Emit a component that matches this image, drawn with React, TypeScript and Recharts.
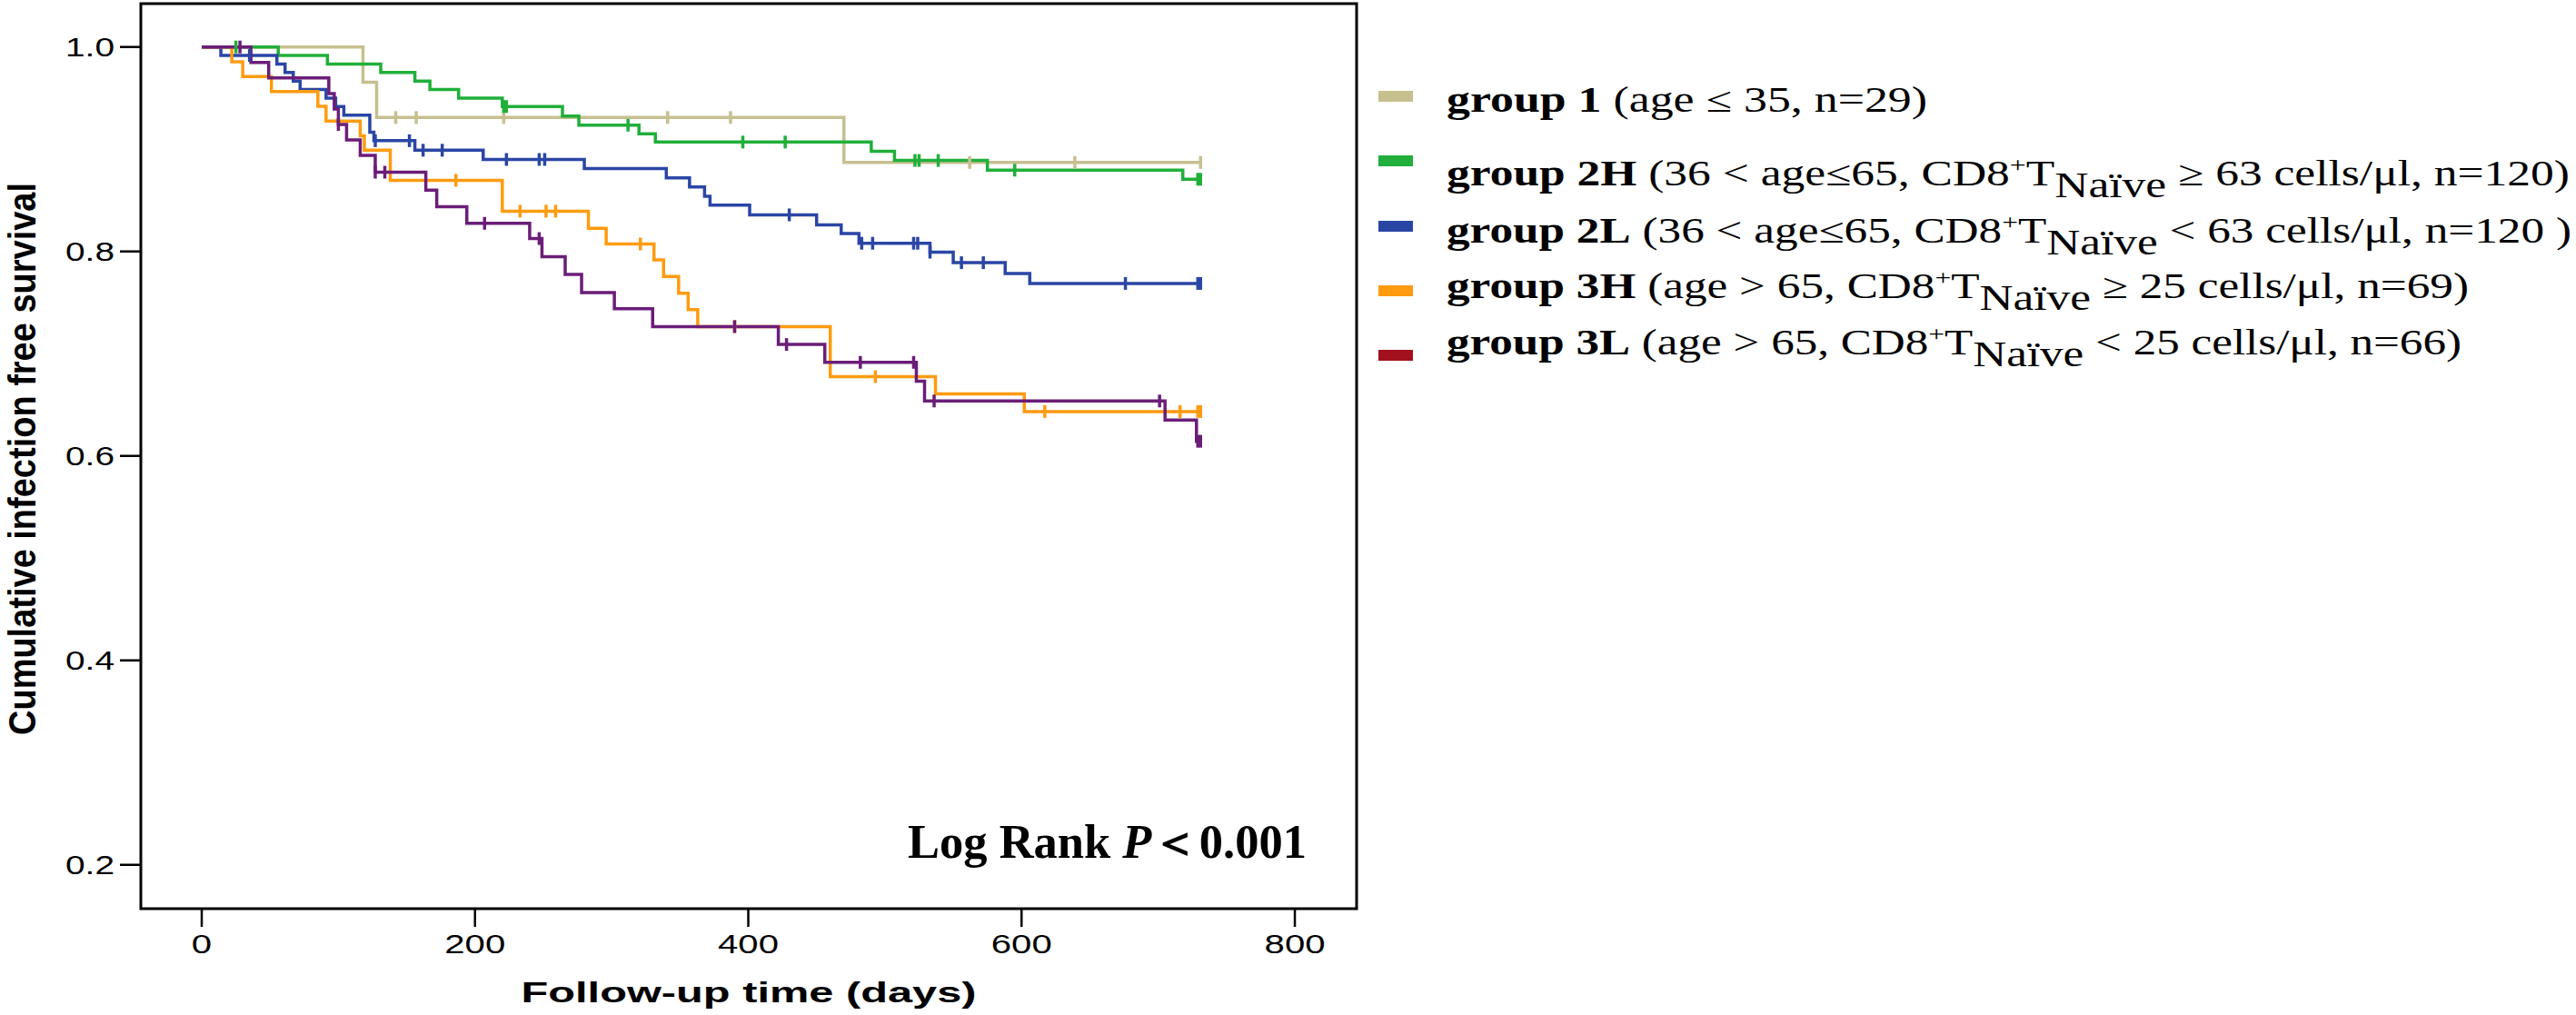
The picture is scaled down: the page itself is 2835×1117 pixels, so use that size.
import React from 'react'
import { ComposedChart, Line, Scatter, XAxis, YAxis, ReferenceArea } from 'recharts'

// Kaplan-Meier steps: [day, survival after the event]
const group1Steps: [number, number][] = [[0, 1], [118, 0.9655], [128, 0.931], [470, 0.887], [731, 0.887]]
const group2HSteps: [number, number][] = [
  [0, 1], [56, 0.9917], [92, 0.9833], [131, 0.975], [156, 0.9667], [167, 0.9583], [188, 0.95],
  [220, 0.9417], [264, 0.9325], [276, 0.9235], [320, 0.915], [332, 0.907], [490, 0.898],
  [507, 0.889], [575, 0.8795], [718, 0.8706], [731, 0.8706],
]
const group2LSteps: [number, number][] = [
  [0, 1], [14, 0.9917], [55, 0.9833], [61, 0.975], [67, 0.9667], [72, 0.9583], [91, 0.95],
  [98, 0.9417], [104, 0.9333], [123, 0.9167], [126, 0.9083], [156, 0.899], [206, 0.89],
  [280, 0.881], [340, 0.872], [357, 0.863], [368, 0.854], [372, 0.8453], [401, 0.8358],
  [450, 0.826], [468, 0.8175], [481, 0.808], [533, 0.7993], [550, 0.789], [588, 0.7784],
  [606, 0.7687], [731, 0.7687],
]
const group3HSteps: [number, number][] = [
  [0, 1], [22, 0.9855], [30, 0.971], [51, 0.9565], [85, 0.942], [91, 0.9275], [116, 0.913],
  [119, 0.899], [138, 0.8696], [220, 0.8394], [283, 0.8227], [296, 0.8073], [331, 0.7918],
  [338, 0.7755], [349, 0.759], [356, 0.743], [363, 0.7265], [460, 0.6775], [537, 0.6606],
  [602, 0.6434], [731, 0.6434],
]
const group3LSteps: [number, number][] = [
  [0, 1], [36, 0.9848], [49, 0.9697], [93, 0.9545], [97, 0.9394], [100, 0.9242], [106, 0.9091],
  [116, 0.8939], [127, 0.8775], [164, 0.86], [172, 0.8438], [194, 0.8275], [240, 0.8126],
  [249, 0.7948], [266, 0.7776], [278, 0.7598], [302, 0.744], [330, 0.7265], [422, 0.709],
  [456, 0.6915], [523, 0.673], [529, 0.6537], [705, 0.635], [728, 0.6143], [731, 0.6143],
]

// censored observations (days)
const group1Censored = [142, 157, 221, 341, 387, 562, 639, 731]
const group2HCensored = [25, 221, 223, 312, 396, 427, 522, 525, 539, 595, 729, 731]
const group2LCensored = [35, 127, 152, 162, 176, 223, 247, 251, 430, 483, 491, 521, 524, 533, 556, 572, 676, 729, 731]
const group3HCensored = [186, 233, 252, 259, 321, 390, 493, 617, 716, 729, 731]
const group3LCensored = [28, 100, 127, 134, 207, 247, 390, 428, 482, 521, 536, 701, 729, 731]

const xTicks = [0, 200, 400, 600, 800]
const yTicks = [0.2, 0.4, 0.6, 0.8, 1.0]

const X_DOMAIN: [number, number] = [-44.56, 845.2]
const Y_DOMAIN: [number, number] = [0.1571, 1.0424]

const toPoints = (steps: [number, number][]) => steps.map(([t, s]) => ({ t, s }))
const censorPoints = (steps: [number, number][], times: number[]) =>
  times.map((t) => {
    let s = steps[0][1]
    for (const [st, sv] of steps) if (st <= t) s = sv
    return { t, s }
  })

const groups = [
  { key: 'g1', steps: group1Steps, censored: group1Censored, color: '#C6C08F' },
  { key: 'g2H', steps: group2HSteps, censored: group2HCensored, color: '#20AF3A' },
  { key: 'g2L', steps: group2LSteps, censored: group2LCensored, color: '#2A46A5' },
  { key: 'g3H', steps: group3HSteps, censored: group3HCensored, color: '#FF9B10' },
  { key: 'g3L', steps: group3LSteps, censored: group3LCensored, color: '#6B1D78' },
]

const legendColors = ['#C6C08F', '#20AF3A', '#2A46A5', '#FF9B10', '#A3101E']

const sans = '"Liberation Sans", Arial, sans-serif'
const serif = '"Liberation Serif", "Times New Roman", serif'

const YTick = (props: any) => {
  const { x, y, payload } = props
  return (
    <text x={x} y={y} dy={10.5} textAnchor="end" fontFamily={sans} fontSize={29} fill="#000"
      textLength={54} lengthAdjust="spacingAndGlyphs">
      {Number(payload.value).toFixed(1)}
    </text>
  )
}

const XTick = (props: any) => {
  const { x, y, payload } = props
  const label = String(payload.value)
  return (
    <text x={x} y={y} dy={20.5} textAnchor="middle" fontFamily={sans} fontSize={29} fill="#000"
      textLength={label.length * 22.3} lengthAdjust="spacingAndGlyphs">
      {label}
    </text>
  )
}

const YTitle = () => (
  <text x={39} y={505} transform="rotate(-90 39 505)" textAnchor="middle" fontFamily={sans}
    fontWeight="bold" fontSize={42} fill="#000" textLength={608} lengthAdjust="spacingAndGlyphs">
    Cumulative infection free survival
  </text>
)

const XTitle = () => (
  <text x={824} y={1103} textAnchor="middle" fontFamily={sans} fontWeight="bold" fontSize={32}
    fill="#000" textLength={501} lengthAdjust="spacingAndGlyphs">
    Follow-up time (days)
  </text>
)

const censorShape = (color: string) => (p: any) => (
  <line x1={p.cx} x2={p.cx} y1={p.cy - 7} y2={p.cy + 7} stroke={color} strokeWidth={3.5} />
)

// legend rows: bold name, text before subscript, subscript, text after
const legendRows = [
  { name: 'group 1', pre: ' (age ≤ 35, n=29)', sub: '', post: '', baseline: 123, swatch: 106, length: 529 },
  { name: 'group 2H', pre: ' (36 < age≤65, CD8', sub: 'Naïve', post: ' ≥ 63 cells/μl, n=120)', baseline: 204, swatch: 177, length: 1236 },
  { name: 'group 2L', pre: ' (36 < age≤65, CD8', sub: 'Naïve', post: ' < 63  cells/μl, n=120 )', baseline: 267, swatch: 249, length: 1238 },
  { name: 'group 3H', pre: ' (age > 65, CD8', sub: 'Naïve', post: ' ≥ 25 cells/μl, n=69)', baseline: 328, swatch: 320, length: 1125 },
  { name: 'group 3L', pre: ' (age > 65, CD8', sub: 'Naïve', post: ' < 25  cells/μl, n=66)', baseline: 390, swatch: 391, length: 1117 },
]

const Overlay = () => (
  <svg width={2835} height={1117} style={{ position: 'absolute', left: 0, top: 0, pointerEvents: 'none' }}>
    {legendRows.map((r, i) => (
      <g key={r.name}>
        <rect x={1517} y={r.swatch - 6} width={38} height={12} fill={legendColors[i]} />
        <text x={1592} y={r.baseline} fontFamily={serif} fontSize={39} fill="#000"
          textLength={r.length} lengthAdjust="spacingAndGlyphs">
          <tspan fontWeight="bold">{r.name}</tspan>
          <tspan>{r.pre}</tspan>
          {r.sub && (
            <>
              <tspan fontSize={24} dy={-15}>+</tspan>
              <tspan dy={15}>T</tspan>
              <tspan dy={13}>{r.sub}</tspan>
              <tspan dy={-13}>{r.post}</tspan>
            </>
          )}
        </text>
      </g>
    ))}
    <text x={999} y={944} fontFamily={serif} fontWeight="bold" fontSize={52} fill="#000"
      textLength={439} lengthAdjust="spacingAndGlyphs">
      Log Rank <tspan fontStyle="italic">P</tspan>＜0.001
    </text>
  </svg>
)

export default function App() {
  return (
    <div style={{ position: 'absolute', left: 0, top: 0, width: 2835, height: 1117, background: '#fff' }}>
      <ComposedChart width={2835} height={1117} margin={{ top: 4, right: 1342, bottom: 87, left: 95 }}>
        <XAxis
          dataKey="t"
          type="number"
          domain={X_DOMAIN}
          allowDataOverflow
          ticks={xTicks}
          height={30}
          axisLine={false}
          tickSize={20}
          tickMargin={8}
          tickLine={{ stroke: '#000', strokeWidth: 2.5 }}
          tick={<XTick />}
          label={<XTitle />}
        />
        <YAxis
          type="number"
          domain={Y_DOMAIN}
          allowDataOverflow
          ticks={yTicks}
          width={60}
          axisLine={false}
          tickSize={23}
          tickMargin={6}
          tickLine={{ stroke: '#000', strokeWidth: 2.5 }}
          tick={<YTick />}
          label={<YTitle />}
        />
        <ReferenceArea x1={X_DOMAIN[0]} x2={X_DOMAIN[1]} y1={Y_DOMAIN[0]} y2={Y_DOMAIN[1]}
          fill="none" stroke="#000" strokeWidth={3} fillOpacity={0} ifOverflow="visible" />
        {groups.map((g) => (
          <Line
            key={g.key}
            data={toPoints(g.steps)}
            dataKey="s"
            type="stepAfter"
            stroke={g.color}
            strokeWidth={3.5}
            dot={false}
            activeDot={false}
            isAnimationActive={false}
          />
        ))}
        {groups.map((g) => (
          <Scatter
            key={g.key + '-c'}
            data={censorPoints(g.steps, g.censored)}
            dataKey="s"
            shape={censorShape(g.color)}
            isAnimationActive={false}
          />
        ))}
      </ComposedChart>
      <Overlay />
    </div>
  )
}
